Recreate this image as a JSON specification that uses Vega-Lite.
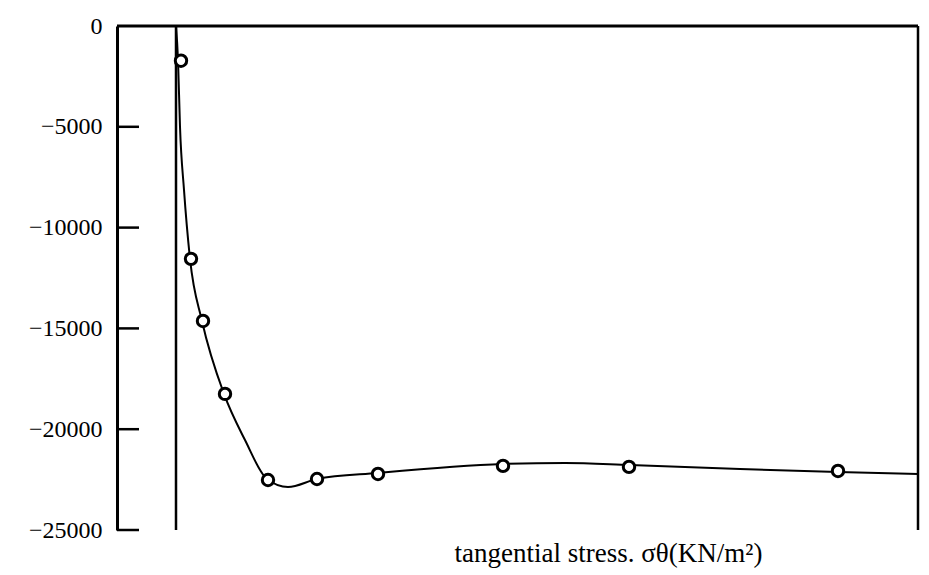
{
  "$schema": "https://vega.github.io/schema/vega-lite/v6.json",
  "width": 801,
  "height": 504,
  "autosize": "none",
  "padding": {"left": 117, "top": 26, "right": 11, "bottom": 45},
  "background": "white",
  "datasets": {
    "curve": [
      {"r": 0, "stress": 0},
      {"r": 2, "stress": -1675},
      {"r": 4, "stress": -5000},
      {"r": 8, "stress": -8130},
      {"r": 14, "stress": -11550},
      {"r": 26, "stress": -14630},
      {"r": 48, "stress": -18250},
      {"r": 69, "stress": -20535},
      {"r": 91, "stress": -22470},
      {"r": 112, "stress": -22870},
      {"r": 141, "stress": -22470},
      {"r": 202, "stress": -22170},
      {"r": 327, "stress": -21725},
      {"r": 389, "stress": -21675},
      {"r": 454, "stress": -21775},
      {"r": 564, "stress": -21975},
      {"r": 662, "stress": -22120},
      {"r": 742, "stress": -22220}
    ],
    "measured": [
      {"r": 5, "stress": -1720},
      {"r": 15, "stress": -11550},
      {"r": 27, "stress": -14630},
      {"r": 49, "stress": -18250},
      {"r": 92, "stress": -22520},
      {"r": 141, "stress": -22470},
      {"r": 202, "stress": -22220},
      {"r": 327, "stress": -21820},
      {"r": 453, "stress": -21870},
      {"r": 662, "stress": -22070}
    ],
    "frame": [
      {"edge": "top", "r": -59, "r2": 742, "stress": 0},
      {"edge": "right", "r": 742, "stress": 0, "stress2": -25000},
      {"edge": "zero", "r": 0, "stress": 0, "stress2": -25000}
    ],
    "ticks": [
      {"r": -59, "r2": -37, "stress": -5000},
      {"r": -59, "r2": -37, "stress": -10000},
      {"r": -59, "r2": -37, "stress": -15000},
      {"r": -59, "r2": -37, "stress": -20000},
      {"r": -59, "r2": -37, "stress": -25000}
    ]
  },
  "layer": [
    {
      "data": {"name": "frame"},
      "transform": [{"filter": "datum.edge === 'top'"}],
      "mark": {"type": "rule", "color": "black", "strokeWidth": 3},
      "encoding": {
        "x": {"field": "r", "type": "quantitative"},
        "x2": {"field": "r2"},
        "y": {"field": "stress", "type": "quantitative"}
      }
    },
    {
      "data": {"name": "ticks"},
      "mark": {"type": "rule", "color": "black", "strokeWidth": 2.5},
      "encoding": {
        "x": {"field": "r", "type": "quantitative"},
        "x2": {"field": "r2"},
        "y": {"field": "stress", "type": "quantitative"}
      }
    },
    {
      "data": {"name": "frame"},
      "transform": [{"filter": "datum.edge !== 'top'"}],
      "mark": {"type": "rule", "color": "black", "strokeWidth": 2.5},
      "encoding": {
        "x": {"field": "r", "type": "quantitative"},
        "y": {"field": "stress", "type": "quantitative"},
        "y2": {"field": "stress2"}
      }
    },
    {
      "data": {"name": "curve"},
      "mark": {"type": "line", "color": "black", "strokeWidth": 2, "interpolate": "monotone"},
      "encoding": {
        "x": {"field": "r", "type": "quantitative"},
        "y": {"field": "stress", "type": "quantitative"}
      }
    },
    {
      "data": {"name": "measured"},
      "mark": {"type": "point", "shape": "circle", "filled": false, "fill": "white", "stroke": "black", "strokeWidth": 3, "size": 130, "opacity": 1},
      "encoding": {
        "x": {
          "field": "r",
          "type": "quantitative",
          "scale": {"domain": [-59, 742], "nice": false, "zero": false},
          "axis": {
            "domain": false,
            "ticks": false,
            "labels": false,
            "grid": false,
            "title": "tangential stress. σθ(KN/m²)",
            "titleX": 491,
            "titleY": 23,
            "titleBaseline": "middle",
            "titleAlign": "center",
            "titleFont": "Liberation Serif",
            "titleFontSize": 27,
            "titleFontWeight": "normal",
            "titleColor": "black"
          }
        },
        "y": {
          "field": "stress",
          "type": "quantitative",
          "scale": {"domain": [-25000, 0], "nice": false},
          "axis": {
            "values": [0, -5000, -10000, -15000, -20000, -25000],
            "format": "d",
            "grid": false,
            "domainColor": "black",
            "domainWidth": 3,
            "ticks": false,
            "labelPadding": 15,
            "labelFont": "Liberation Serif",
            "labelFontSize": 24,
            "labelColor": "black",
            "title": null
          }
        }
      }
    }
  ],
  "config": {
    "view": {"stroke": null}
  }
}
